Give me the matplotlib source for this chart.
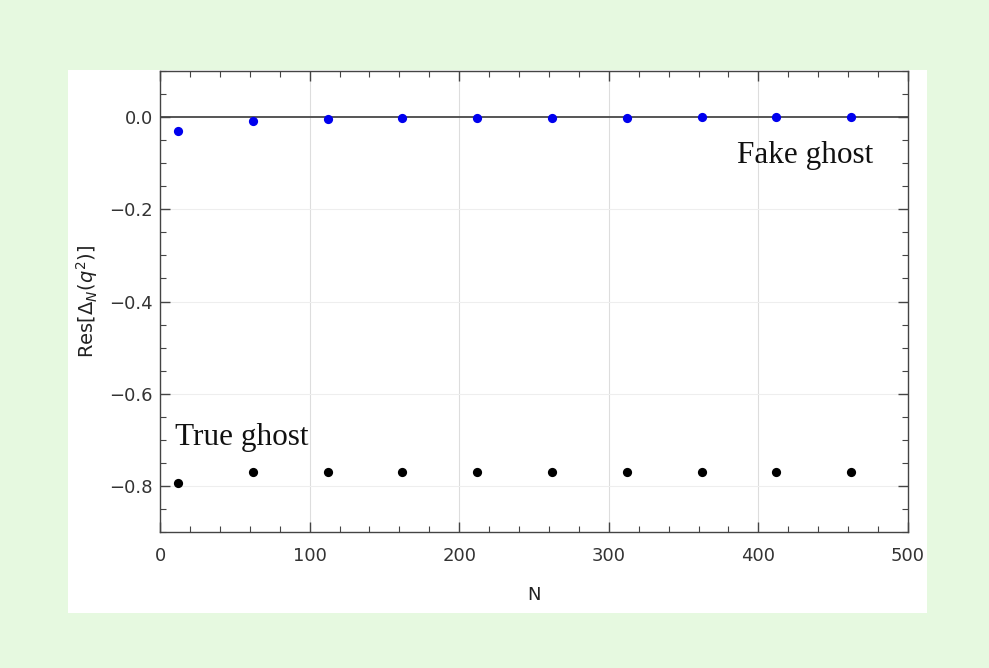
import matplotlib
matplotlib.use("Agg")
import matplotlib.pyplot as plt
from matplotlib.patches import Rectangle
from matplotlib.ticker import MultipleLocator

plt.rcParams['font.family'] = ['DejaVu Sans']
plt.rcParams['mathtext.fontset'] = 'dejavusans'

# Sample sizes and the residues of the two ghost poles
N = [12, 62, 112, 162, 212, 262, 312, 362, 412, 462]
fake_ghost = [-0.030, -0.008, -0.004, -0.002, -0.001, -0.001, -0.001, -0.0005, -0.0005, -0.0005]
true_ghost = [-0.793, -0.769, -0.769, -0.769, -0.769, -0.769, -0.769, -0.769, -0.769, -0.769]

x_ticks = [0, 100, 200, 300, 400, 500]
y_ticks = [0.0, -0.2, -0.4, -0.6, -0.8]

fig = plt.figure(figsize=(9.89, 6.68), dpi=100)
fig.patch.set_facecolor('#e6f9e0')
panel = Rectangle((0.0688, 0.0823), 0.8685, 0.8129,
                  transform=fig.transFigure, facecolor='white',
                  edgecolor='none', zorder=-5)
fig.add_artist(panel)

ax = fig.add_axes([0.1618, 0.2036, 0.7563, 0.6901])
ax.set_zorder(5)
ax.set_facecolor('white')

ax.set_xlim(0, 500)
ax.set_ylim(-0.9, 0.1)

ax.axhline(0, color='#555555', lw=1.4, zorder=1)
for xv in [100, 200, 300, 400]:
    ax.axvline(xv, color='#dddddd', lw=0.8, zorder=0)
for yv in [-0.2, -0.4, -0.6, -0.8]:
    ax.axhline(yv, color='#eeeeee', lw=0.8, zorder=0)

ax.scatter(N, fake_ghost, s=44, color='#0000ee', zorder=3, linewidths=0)
ax.scatter(N, true_ghost, s=44, color='black', zorder=3, linewidths=0)

ax.set_xticks(x_ticks)
ax.set_yticks(y_ticks)
ax.set_yticklabels(['0.0', '\u22120.2', '\u22120.4', '\u22120.6', '\u22120.8'])
ax.xaxis.set_minor_locator(MultipleLocator(20))
ax.yaxis.set_minor_locator(MultipleLocator(0.05))
ax.tick_params(which='both', direction='in', top=True, right=True,
               color='#444444', labelcolor='#333333', labelsize=13)
ax.tick_params(which='major', length=7, width=1)
ax.tick_params(which='minor', length=4, width=0.8)
ax.tick_params(axis='y', which='major', pad=5)
ax.tick_params(axis='x', which='major', pad=11)
for sp in ax.spines.values():
    sp.set_color('#444444')
    sp.set_linewidth(1.0)

ax.set_xlabel('N', fontsize=13, color='#222222', labelpad=15)
ax.set_ylabel(r'Res[$\Delta_N(q^2)$]', fontsize=14, color='#222222', labelpad=7)

serif = ['Liberation Serif', 'DejaVu Serif']
ax.text(386, -0.1, 'Fake ghost', family=serif, fontsize=22.5, color='#111111')
ax.text(10, -0.711, 'True ghost', family=serif, fontsize=22.5, color='#111111')

fig.savefig('out.png', dpi=100, facecolor=fig.get_facecolor())
